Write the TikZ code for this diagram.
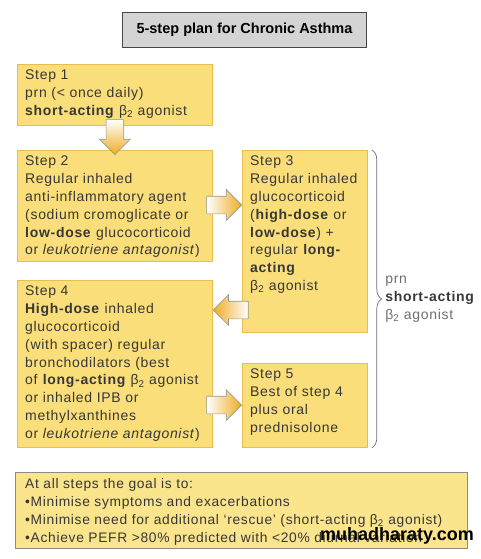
\documentclass[tikz,border=0pt]{standalone}
\usepackage{fontspec}
\setmainfont{Liberation Sans}
\newfontfamily\stepfont[LetterSpace=5]{Liberation Sans}
\usetikzlibrary{shapes.arrows,decorations.pathreplacing}
\definecolor{boxfill}{RGB}{250,222,122}
\definecolor{boxline}{RGB}{232,190,80}
\definecolor{goalfill}{RGB}{250,228,140}
\definecolor{goalline}{RGB}{140,140,130}
\definecolor{titlefill}{RGB}{212,212,212}
\definecolor{titleline}{RGB}{70,70,70}
\definecolor{arrowfill}{RGB}{238,172,36}
\definecolor{arrowline}{RGB}{150,150,140}
\definecolor{textcol}{RGB}{55,55,55}
\definecolor{bracecol}{RGB}{110,110,110}

\begin{document}
\begin{tikzpicture}[x=1pt,y=-1pt,
  stepbox/.style={draw=boxline, fill=boxfill, line width=0.8pt, anchor=north west, inner sep=0},
  steptext/.style={anchor=north west, align=left, inner xsep=8pt, inner ysep=6pt, text=textcol,
    font=\stepfont\fontsize{14}{17.8}\selectfont},
  blockarrow/.style={single arrow, draw=arrowline, line width=0.6pt, inner sep=8.5pt,
    minimum height=35pt, single arrow head extend=6.5pt, anchor=tip},
  rarrow/.style={blockarrow, left color=white, right color=arrowfill},
  larrow/.style={blockarrow, shape border rotate=180, left color=arrowfill, right color=white},
  darrow/.style={blockarrow, shape border rotate=270, top color=white, bottom color=arrowfill}]
\useasboundingbox (0,0) rectangle (480,559);

\node[draw=titleline, fill=titlefill, line width=1pt, anchor=north west, minimum width=244pt,
  minimum height=35pt, font=\bfseries\fontsize{14.5}{17}\selectfont] (title) at (122,12)
  {5-step plan for Chronic Asthma};

\node[stepbox, minimum width=195pt, minimum height=61pt, label={[steptext]north west:{Step 1\\
  prn (< once daily)\\
  \textbf{short-acting} β\textsubscript{2} agonist}}] (s1) at (17,64) {};
\node[stepbox, minimum width=195pt, minimum height=111pt, label={[steptext]north west:{Step 2\\
  Regular inhaled\\
  anti-inflammatory agent\\
  (sodium cromoglicate or\\
  \textbf{low-dose} glucocorticoid\\
  or \textit{leukotriene antagonist})}}] (s2) at (17,150) {};
\node[stepbox, minimum width=125pt, minimum height=182pt, label={[steptext]north west:{Step 3\\
  Regular inhaled\\
  glucocorticoid\\
  (\textbf{high-dose} or\\
  \textbf{low-dose}) +\\
  regular \textbf{long-}\\
  \textbf{acting}\\
  β\textsubscript{2} agonist}}] (s3) at (242,150) {};
\node[stepbox, minimum width=195pt, minimum height=167pt, label={[steptext]north west:{Step 4\\
  \textbf{High-dose} inhaled\\
  glucocorticoid\\
  (with spacer) regular\\
  bronchodilators (best\\
  of \textbf{long-acting} β\textsubscript{2} agonist\\
  or inhaled IPB or\\
  methylxanthines\\
  or \textit{leukotriene antagonist})}}] (s4) at (17,280) {};
\node[stepbox, minimum width=125pt, minimum height=84pt, label={[steptext]north west:{Step 5\\
  Best of step 4\\
  plus oral\\
  prednisolone}}] (s5) at (242,363) {};

\node[darrow] (a12) at ([yshift=-5pt]s2.north) {};
\node[rarrow] (a23) at (s3.west |- 0,205) {};
\node[larrow] (a34) at (s4.east |- 0,310) {};
\node[rarrow] (a45) at (s5.west |- 0,405) {};

\draw[bracecol, line width=0.7pt, decorate, decoration={brace, amplitude=10pt}]
  ([xshift=4pt]s3.north east) -- ([xshift=4pt]s5.south east);
\path ([xshift=4pt]s3.north east) -- ([xshift=4pt]s5.south east)
  node[midway, right=10pt, align=left, text=bracecol, font=\stepfont\fontsize{14}{17.8}\selectfont] (prn)
  {prn\\ \textcolor{textcol}{\textbf{short-acting}}\\ β\textsubscript{2} agonist};

\node[draw=goalline, fill=goalfill, line width=0.8pt, anchor=north west, inner sep=0,
  minimum width=452pt, minimum height=76pt, label={[anchor=north west, align=left, inner xsep=10pt,
  inner ysep=6.5pt, text=textcol, font=\stepfont\fontsize{13.8}{18}\selectfont]north west:{At all steps the goal is to:\\
  •Minimise symptoms and exacerbations\\
  •Minimise need for additional ‘rescue’ (short-acting β\textsubscript{2} agonist)\\
  •Achieve PEFR >80\% predicted with <20\% diurnal variation}}] (goal) at (15,472) {};

\node[font=\bfseries\fontsize{18}{20}\selectfont] (mark) at (397,536) {muhadharaty.com};
\end{tikzpicture}
\end{document}
